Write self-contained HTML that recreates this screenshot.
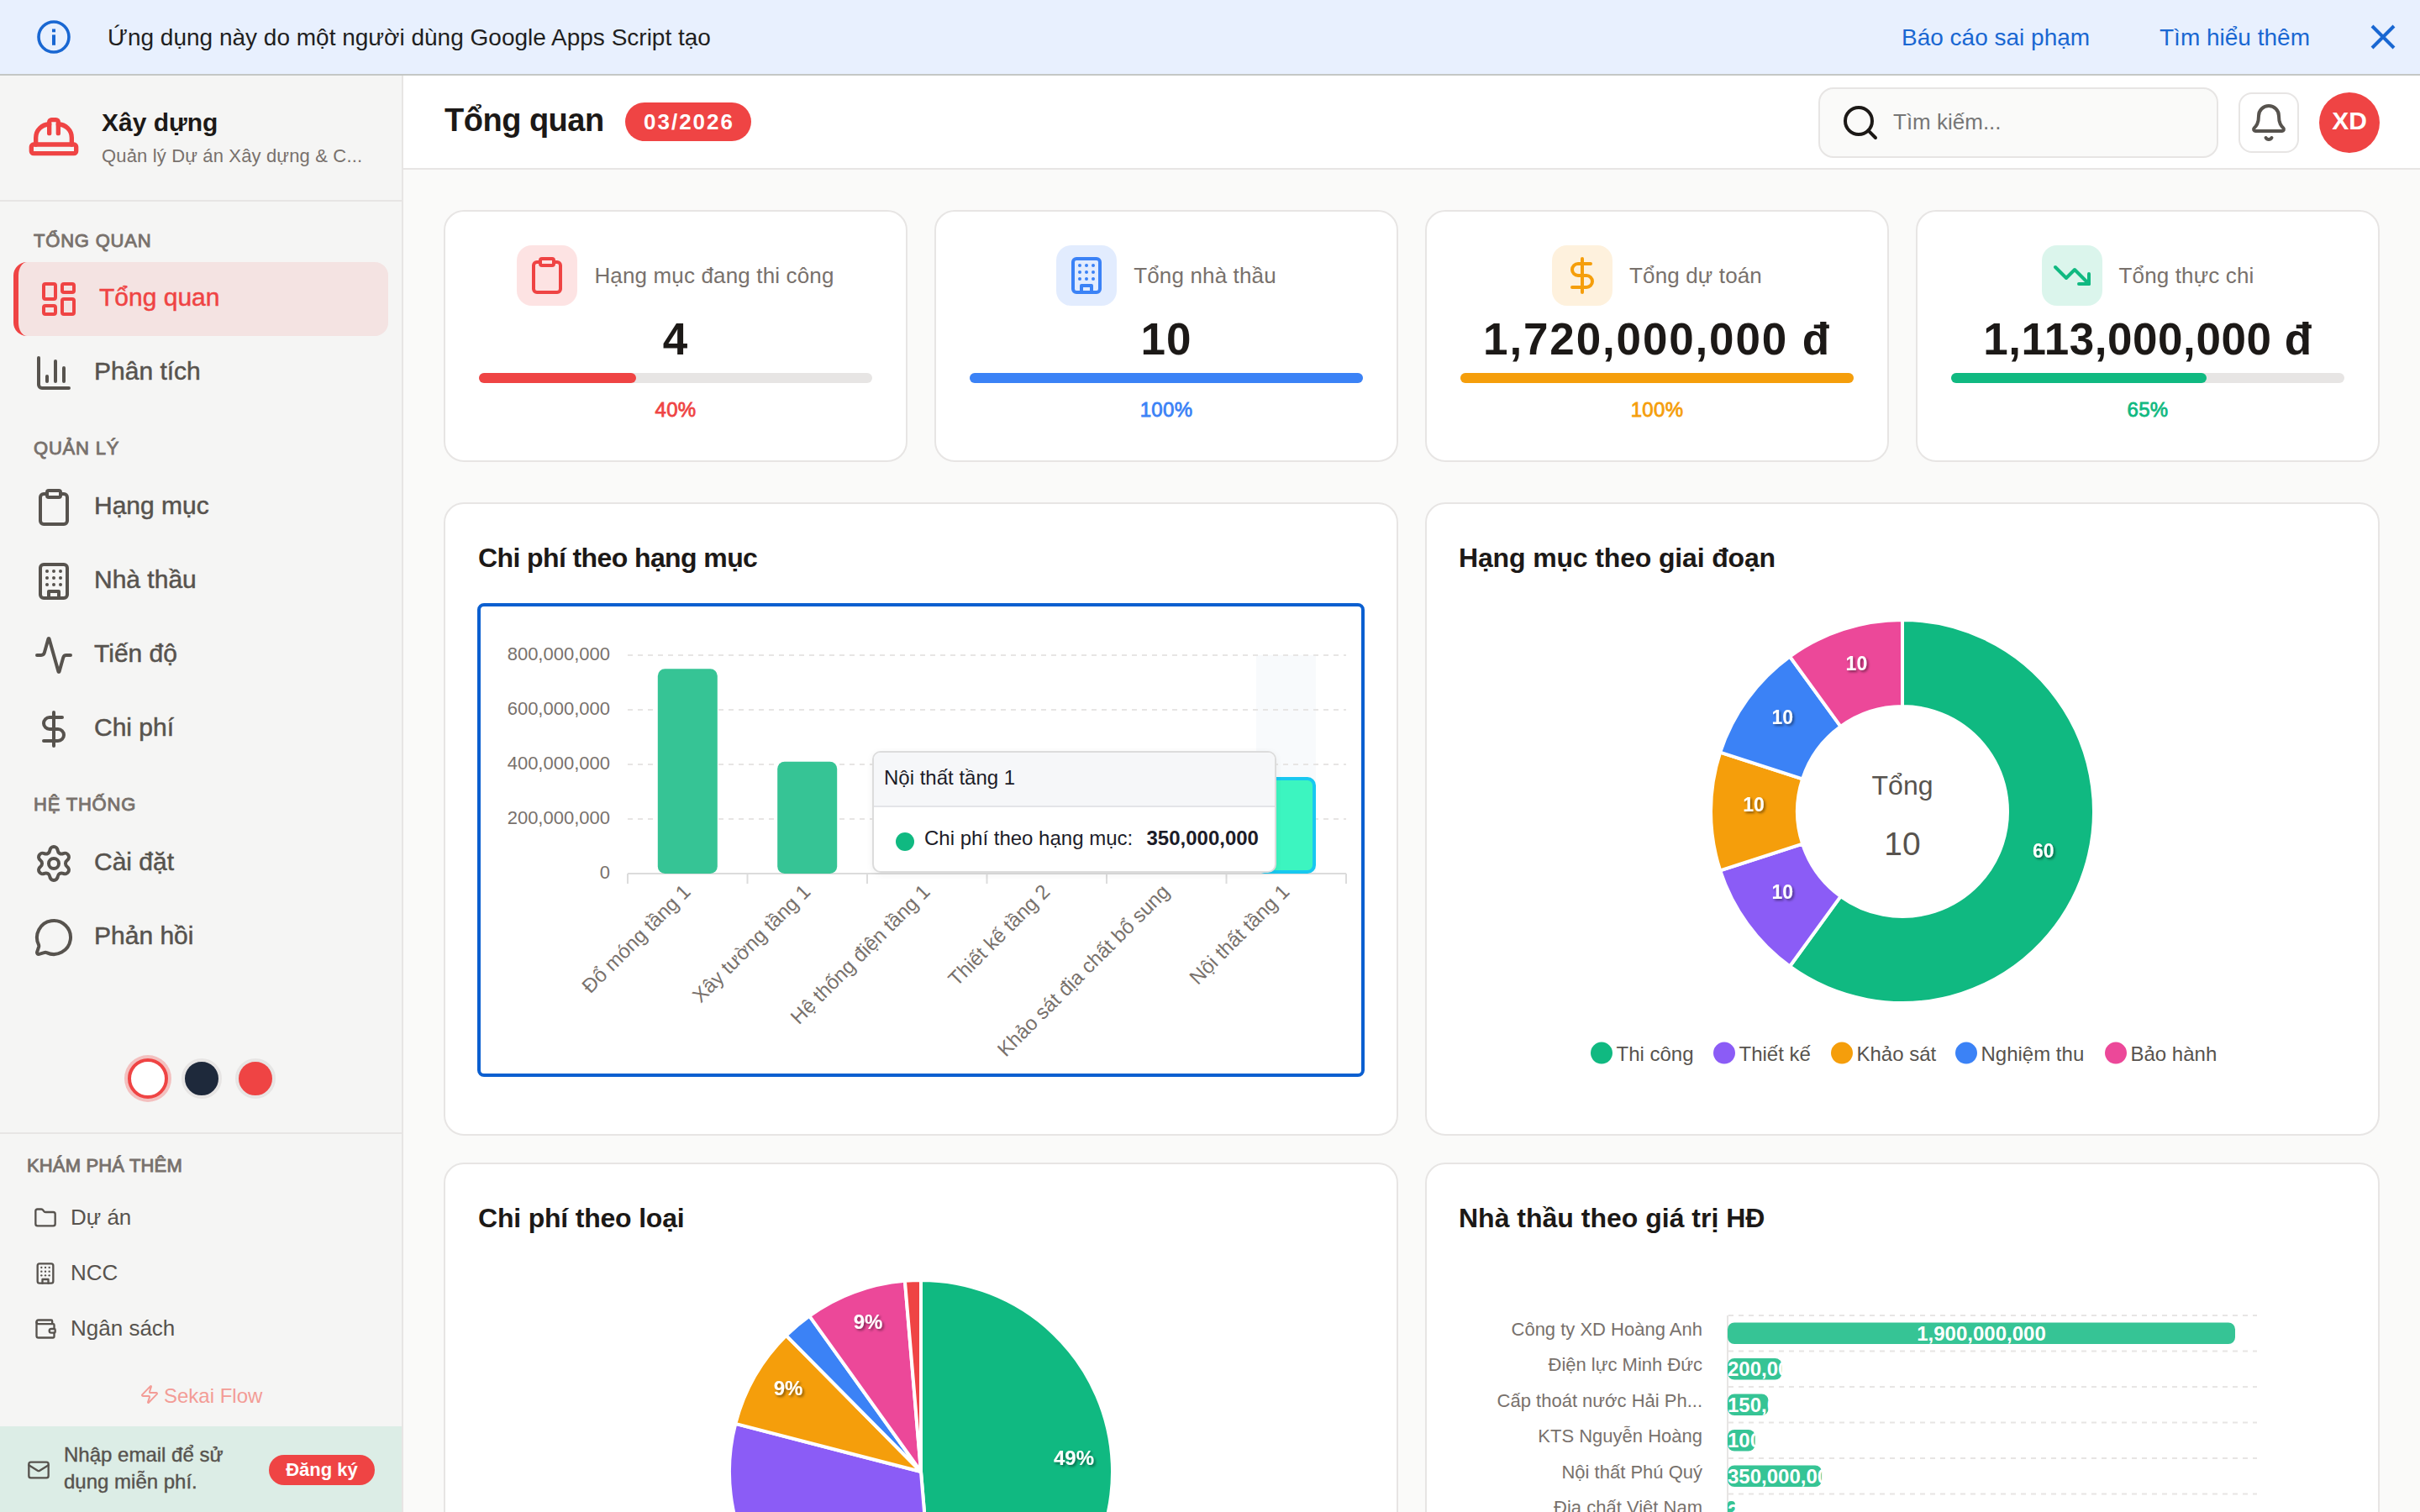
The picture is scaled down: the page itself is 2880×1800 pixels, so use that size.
<!DOCTYPE html>
<html lang="vi"><head><meta charset="utf-8"><title>Tổng quan - Xây dựng</title>
<style>
html,body{margin:0;padding:0;width:2880px;height:1800px;overflow:hidden;background:#fafaf9}
body{position:relative;font-family:"Liberation Sans", Arial, Helvetica, sans-serif;}
.t{position:absolute;white-space:nowrap;}
@media (max-width:2000px){html{zoom:0.5}}
</style></head><body>
<div style="position:relative;width:2880px;height:1800px;overflow:hidden">
<div style="position:absolute;left:0px;top:0px;width:2880px;height:88px;background:#e8f0fe"></div>
<div style="position:absolute;left:0px;top:88px;width:2880px;height:2px;background:#c4c7c5"></div>
<svg style="position:absolute;left:44px;top:24px" width="40" height="40" viewBox="0 0 40 40"><circle cx="20" cy="20" r="18" fill="none" stroke="#1967d2" stroke-width="3.6"/><rect x="18" y="10.5" width="4" height="3.8" fill="#1967d2"/><rect x="18" y="17.4" width="4" height="12.4" fill="#1967d2"/></svg>
<div class="t " style="left:128.0px;top:30.6px;font-size:28px;line-height:28px;color:#1f1f1f;">Ứng dụng này do một người dùng Google Apps Script tạo</div>
<div class="t " style="left:2263.0px;top:30.5px;font-size:28px;line-height:28px;color:#1967d2;">Báo cáo sai phạm</div>
<div class="t " style="left:2570.0px;top:30.5px;font-size:28px;line-height:28px;color:#1967d2;">Tìm hiểu thêm</div>
<svg style="position:absolute;left:2820px;top:28px" width="32" height="32" viewBox="0 0 32 32"><path d="M3 3L29 29M29 3L3 29" stroke="#1967d2" stroke-width="4"/></svg>
<div style="position:absolute;left:0px;top:90px;width:478px;height:1710px;background:#f5f5f4"></div>
<div style="position:absolute;left:478px;top:90px;width:2px;height:1710px;background:#e7e5e4"></div>
<div style="position:absolute;left:0px;top:238px;width:478px;height:2px;background:#e7e5e4"></div>
<svg style="position:absolute;left:32px;top:132px" width="64" height="64" viewBox="0 0 24 24" fill="none" stroke="#ef4444" stroke-width="2" stroke-linecap="round" stroke-linejoin="round"><path d="M10 10V5a1 1 0 0 1 1-1h2a1 1 0 0 1 1 1v5"/><path d="M14 6a6 6 0 0 1 6 6v3"/><path d="M4 15v-3a6 6 0 0 1 6-6"/><rect x="2" y="15" width="20" height="4" rx="1"/></svg>
<div class="t " style="left:121.0px;top:131.0px;font-size:30px;line-height:30px;color:#1c1917;font-weight:700;">Xây dựng</div>
<div class="t " style="left:121.0px;top:175.4px;font-size:22px;line-height:22px;color:#78716c;letter-spacing:0.15px;">Quản lý Dự án Xây dựng &amp; C...</div>
<div class="t " style="left:40.0px;top:275.6px;font-size:22px;line-height:22px;color:#78716c;letter-spacing:0.8px;-webkit-text-stroke:0.9px #78716c;">TỔNG QUAN</div>
<div style="position:absolute;left:16px;top:312px;width:440px;height:88px;border-left:6px solid #ef4444;border-radius:16px;background:rgba(239,68,68,0.1)"></div>
<svg style="position:absolute;left:46px;top:332px" width="48" height="48" viewBox="0 0 24 24" fill="none" stroke="#ef4444" stroke-width="2" stroke-linecap="round" stroke-linejoin="round"><rect width="7" height="9" x="3" y="3" rx="1"/><rect width="7" height="5" x="14" y="3" rx="1"/><rect width="7" height="9" x="14" y="12" rx="1"/><rect width="7" height="5" x="3" y="16" rx="1"/></svg>
<div class="t " style="left:118.0px;top:338.8px;font-size:30px;line-height:30px;color:#ef4444;-webkit-text-stroke:0.5px #ef4444;">Tổng quan</div>
<svg style="position:absolute;left:40px;top:420px" width="48" height="48" viewBox="0 0 24 24" fill="none" stroke="#57534e" stroke-width="2" stroke-linecap="round" stroke-linejoin="round"><path d="M3 3v16a2 2 0 0 0 2 2h16"/><path d="M18 17V9"/><path d="M13 17V5"/><path d="M8 17v-3"/></svg>
<div class="t " style="left:112.0px;top:426.8px;font-size:30px;line-height:30px;color:#57534e;-webkit-text-stroke:0.5px #57534e;">Phân tích</div>
<div class="t " style="left:40.0px;top:523.2px;font-size:22px;line-height:22px;color:#78716c;letter-spacing:0.8px;-webkit-text-stroke:0.9px #78716c;">QUẢN LÝ</div>
<svg style="position:absolute;left:40px;top:580px" width="48" height="48" viewBox="0 0 24 24" fill="none" stroke="#57534e" stroke-width="2" stroke-linecap="round" stroke-linejoin="round"><rect width="8" height="4" x="8" y="2" rx="1" ry="1"/><path d="M16 4h2a2 2 0 0 1 2 2v14a2 2 0 0 1-2 2H6a2 2 0 0 1-2-2V6a2 2 0 0 1 2-2h2"/></svg>
<div class="t " style="left:112.0px;top:586.8px;font-size:30px;line-height:30px;color:#57534e;-webkit-text-stroke:0.5px #57534e;">Hạng mục</div>
<svg style="position:absolute;left:40px;top:668px" width="48" height="48" viewBox="0 0 24 24" fill="none" stroke="#57534e" stroke-width="2" stroke-linecap="round" stroke-linejoin="round"><rect width="16" height="20" x="4" y="2" rx="2" ry="2"/><path d="M9 22v-4h6v4"/><path d="M8 6h.01"/><path d="M16 6h.01"/><path d="M12 6h.01"/><path d="M12 10h.01"/><path d="M12 14h.01"/><path d="M16 10h.01"/><path d="M16 14h.01"/><path d="M8 10h.01"/><path d="M8 14h.01"/></svg>
<div class="t " style="left:112.0px;top:674.8px;font-size:30px;line-height:30px;color:#57534e;-webkit-text-stroke:0.5px #57534e;">Nhà thầu</div>
<svg style="position:absolute;left:40px;top:756px" width="48" height="48" viewBox="0 0 24 24" fill="none" stroke="#57534e" stroke-width="2" stroke-linecap="round" stroke-linejoin="round"><path d="M22 12h-2.48a2 2 0 0 0-1.93 1.46l-2.35 8.36a.25.25 0 0 1-.48 0L9.240 2.18a.25.25 0 0 0-.48 0l-2.35 8.36A2 2 0 0 1 4.49 12H2"/></svg>
<div class="t " style="left:112.0px;top:762.8px;font-size:30px;line-height:30px;color:#57534e;-webkit-text-stroke:0.5px #57534e;">Tiến độ</div>
<svg style="position:absolute;left:40px;top:844px" width="48" height="48" viewBox="0 0 24 24" fill="none" stroke="#57534e" stroke-width="2" stroke-linecap="round" stroke-linejoin="round"><line x1="12" x2="12" y1="2" y2="22"/><path d="M17 5H9.5a3.5 3.5 0 0 0 0 7h5a3.5 3.5 0 0 1 0 7H6"/></svg>
<div class="t " style="left:112.0px;top:850.8px;font-size:30px;line-height:30px;color:#57534e;-webkit-text-stroke:0.5px #57534e;">Chi phí</div>
<div class="t " style="left:40.0px;top:947.4px;font-size:22px;line-height:22px;color:#78716c;letter-spacing:0.8px;-webkit-text-stroke:0.9px #78716c;">HỆ THỐNG</div>
<svg style="position:absolute;left:40px;top:1004px" width="48" height="48" viewBox="0 0 24 24" fill="none" stroke="#57534e" stroke-width="2" stroke-linecap="round" stroke-linejoin="round"><path d="M9.671 4.136a2.34 2.34 0 0 1 4.659 0 2.34 2.34 0 0 0 3.319 1.915 2.34 2.34 0 0 1 2.33 4.033 2.34 2.34 0 0 0 0 3.831 2.34 2.34 0 0 1-2.33 4.033 2.34 2.34 0 0 0-3.319 1.915 2.34 2.34 0 0 1-4.659 0 2.34 2.34 0 0 0-3.32-1.915 2.34 2.34 0 0 1-2.33-4.033 2.34 2.34 0 0 0 0-3.831A2.34 2.34 0 0 1 6.35 6.051a2.34 2.34 0 0 0 3.319-1.915"/><circle cx="12" cy="12" r="3"/></svg>
<div class="t " style="left:112.0px;top:1010.8px;font-size:30px;line-height:30px;color:#57534e;-webkit-text-stroke:0.5px #57534e;">Cài đặt</div>
<svg style="position:absolute;left:40px;top:1092px" width="48" height="48" viewBox="0 0 24 24" fill="none" stroke="#57534e" stroke-width="2" stroke-linecap="round" stroke-linejoin="round"><path d="M2.992 16.342a2 2 0 0 1 .094 1.167l-1.065 3.29a1 1 0 0 0 1.236 1.168l3.413-.998a2 2 0 0 1 1.099.092 10 10 0 1 0-4.777-4.719"/></svg>
<div class="t " style="left:112.0px;top:1098.8px;font-size:30px;line-height:30px;color:#57534e;-webkit-text-stroke:0.5px #57534e;">Phản hồi</div>
<div style="position:absolute;left:152px;top:1260px;width:40px;height:40px;border-radius:50%;background:#fff;border:4px solid #ef4444;box-shadow:0 0 0 4px rgba(239,68,68,0.3)"></div>
<div style="position:absolute;left:216px;top:1260px;width:40px;height:40px;border-radius:50%;background:#1e293b;border:4px solid #e7e5e4"></div>
<div style="position:absolute;left:280px;top:1260px;width:40px;height:40px;border-radius:50%;background:#ef4444;border:4px solid #e7e5e4"></div>
<div style="position:absolute;left:0px;top:1348px;width:478px;height:2px;background:#e7e5e4"></div>
<div class="t " style="left:32.0px;top:1377.4px;font-size:22px;line-height:22px;color:#78716c;letter-spacing:0.15px;-webkit-text-stroke:0.9px #78716c;">KHÁM PHÁ THÊM</div>
<svg style="position:absolute;left:40px;top:1436px" width="28" height="28" viewBox="0 0 24 24" fill="none" stroke="#57534e" stroke-width="2" stroke-linecap="round" stroke-linejoin="round"><path d="M20 20a2 2 0 0 0 2-2V8a2 2 0 0 0-2-2h-7.9a2 2 0 0 1-1.69-.9L9.6 3.9A2 2 0 0 0 7.93 3H4a2 2 0 0 0-2 2v13a2 2 0 0 0 2 2Z"/></svg>
<div class="t " style="left:84.0px;top:1436.0px;font-size:26px;line-height:26px;color:#57534e;">Dự án</div>
<svg style="position:absolute;left:40px;top:1502px" width="28" height="28" viewBox="0 0 24 24" fill="none" stroke="#57534e" stroke-width="2" stroke-linecap="round" stroke-linejoin="round"><rect width="16" height="20" x="4" y="2" rx="2" ry="2"/><path d="M9 22v-4h6v4"/><path d="M8 6h.01"/><path d="M16 6h.01"/><path d="M12 6h.01"/><path d="M12 10h.01"/><path d="M12 14h.01"/><path d="M16 10h.01"/><path d="M16 14h.01"/><path d="M8 10h.01"/><path d="M8 14h.01"/></svg>
<div class="t " style="left:84.0px;top:1502.0px;font-size:26px;line-height:26px;color:#57534e;">NCC</div>
<svg style="position:absolute;left:40px;top:1568px" width="28" height="28" viewBox="0 0 24 24" fill="none" stroke="#57534e" stroke-width="2" stroke-linecap="round" stroke-linejoin="round"><path d="M19 7V4a1 1 0 0 0-1-1H5a2 2 0 0 0 0 4h15a1 1 0 0 1 1 1v4h-3a2 2 0 0 0 0 4h3a1 1 0 0 0 1-1v-2a1 1 0 0 0-1-1"/><path d="M3 5v14a2 2 0 0 0 2 2h15a1 1 0 0 0 1-1v-4"/></svg>
<div class="t " style="left:84.0px;top:1568.0px;font-size:26px;line-height:26px;color:#57534e;">Ngân sách</div>
<svg style="position:absolute;left:166px;top:1648px" width="24" height="24" viewBox="0 0 24 24" fill="none" stroke="#f39c96" stroke-width="2" stroke-linecap="round" stroke-linejoin="round"><path d="M4 14a1 1 0 0 1-.78-1.63l9.9-10.2a.5.5 0 0 1 .86.46l-1.92 6.02A1 1 0 0 0 13 10h7a1 1 0 0 1 .78 1.63l-9.9 10.2a.5.5 0 0 1-.86-.46l1.92-6.02A1 1 0 0 0 11 14z"/></svg>
<div class="t " style="left:195.0px;top:1649.7px;font-size:24px;line-height:24px;color:#f39c96;">Sekai Flow</div>
<div style="position:absolute;left:0px;top:1698px;width:478px;height:102px;background:#dcede6"></div>
<svg style="position:absolute;left:32px;top:1736px" width="28" height="28" viewBox="0 0 24 24" fill="none" stroke="#57534e" stroke-width="2" stroke-linecap="round" stroke-linejoin="round"><rect width="20" height="16" x="2" y="4" rx="2"/><path d="m22 7-8.97 5.7a1.94 1.94 0 0 1-2.06 0L2 7"/></svg>
<div class="t " style="left:76.0px;top:1719.7px;font-size:24px;line-height:24px;color:#57534e;-webkit-text-stroke:0.4px #57534e;">Nhập email để sử</div>
<div class="t " style="left:76.0px;top:1752.1px;font-size:24px;line-height:24px;color:#57534e;-webkit-text-stroke:0.4px #57534e;">dụng miễn phí.</div>
<div style="position:absolute;left:320px;top:1732px;width:126px;height:36px;border-radius:18px;background:#ef4444"></div>
<div class="t " style="left:383.0px;top:1739.4px;font-size:22px;line-height:22px;color:#fff;font-weight:700;transform:translateX(-50%);">Đăng ký</div>
<div style="position:absolute;left:480px;top:90px;width:2400px;height:110px;background:#fff"></div>
<div style="position:absolute;left:480px;top:200px;width:2400px;height:2px;background:#e7e5e4"></div>
<div style="position:absolute;left:480px;top:202px;width:2400px;height:1598px;background:#fafaf9"></div>
<div class="t " style="left:529.0px;top:123.8px;font-size:38px;line-height:38px;color:#1c1917;font-weight:700;letter-spacing:-0.5px;">Tổng quan</div>
<div style="position:absolute;left:744px;top:122px;width:150px;height:46px;border-radius:23px;background:#ef4444"></div>
<div class="t " style="left:820.0px;top:132.3px;font-size:26px;line-height:26px;color:#fff;font-weight:700;letter-spacing:2px;transform:translateX(-50%);">03/2026</div>
<div style="position:absolute;left:2164px;top:104px;width:472px;height:80px;border:2px solid #e7e5e4;border-radius:18px;background:#fafaf9"></div>
<svg style="position:absolute;left:2190px;top:122px" width="48" height="48" viewBox="0 0 24 24" fill="none" stroke="#1c1917" stroke-width="2" stroke-linecap="round" stroke-linejoin="round"><circle cx="11" cy="11" r="8"/><path d="m21 21-4.3-4.3"/></svg>
<div class="t " style="left:2253.0px;top:132.0px;font-size:26px;line-height:26px;color:#767676;">Tìm kiếm...</div>
<div style="position:absolute;left:2664px;top:110px;width:68px;height:68px;border:2px solid #e7e5e4;border-radius:16px;background:#fff"></div>
<svg style="position:absolute;left:2676px;top:122px" width="48" height="48" viewBox="0 0 24 24" fill="none" stroke="#57534e" stroke-width="2" stroke-linecap="round" stroke-linejoin="round"><path d="M10.268 21a2 2 0 0 0 3.464 0"/><path d="M3.262 15.326A1 1 0 0 0 4 17h16a1 1 0 0 0 .74-1.673C19.41 13.956 18 12.499 18 8A6 6 0 0 0 6 8c0 4.499-1.411 5.956-2.738 7.326"/></svg>
<div style="position:absolute;left:2760px;top:110px;width:72px;height:72px;border-radius:50%;background:#ef4444"></div>
<div class="t " style="left:2796.0px;top:129.1px;font-size:30px;line-height:30px;color:#fff;font-weight:700;transform:translateX(-50%);">XD</div>
<div style="position:absolute;left:528px;top:250px;width:548px;height:296px;border:2px solid #e7e5e4;border-radius:24px;background:#fff"></div>
<div style="position:absolute;left:528px;top:292px;width:552px;height:72px;display:flex;justify-content:center;align-items:center;gap:20px"><div style="width:72px;height:72px;border-radius:18px;background:rgba(239,68,68,0.15);display:flex;align-items:center;justify-content:center"><svg width="48" height="48" viewBox="0 0 24 24" fill="none" stroke="#ef4444" stroke-width="2" stroke-linecap="round" stroke-linejoin="round"><rect width="8" height="4" x="8" y="2" rx="1" ry="1"/><path d="M16 4h2a2 2 0 0 1 2 2v14a2 2 0 0 1-2 2H6a2 2 0 0 1-2-2V6a2 2 0 0 1 2-2h2"/></svg></div><div style="font-size:26px;color:#78716c;white-space:nowrap;line-height:26px;letter-spacing:0.15px">Hạng mục đang thi công</div></div>
<div class="t " style="left:804.0px;top:377.4px;font-size:53px;line-height:53px;color:#1c1917;font-weight:700;letter-spacing:1px;transform:translateX(-50%);">4</div>
<div style="position:absolute;left:570px;top:444px;width:468px;height:12px;border-radius:6px;background:#e7e5e4"><div style="width:40.0%;height:12px;border-radius:6px;background:#ef4444"></div></div>
<div class="t " style="left:804.0px;top:475.9px;font-size:24px;line-height:24px;color:#ef4444;letter-spacing:0.3px;transform:translateX(-50%);-webkit-text-stroke:0.8px #ef4444;">40%</div>
<div style="position:absolute;left:1112px;top:250px;width:548px;height:296px;border:2px solid #e7e5e4;border-radius:24px;background:#fff"></div>
<div style="position:absolute;left:1112px;top:292px;width:552px;height:72px;display:flex;justify-content:center;align-items:center;gap:20px"><div style="width:72px;height:72px;border-radius:18px;background:rgba(59,130,246,0.15);display:flex;align-items:center;justify-content:center"><svg width="48" height="48" viewBox="0 0 24 24" fill="none" stroke="#3b82f6" stroke-width="2" stroke-linecap="round" stroke-linejoin="round"><rect width="16" height="20" x="4" y="2" rx="2" ry="2"/><path d="M9 22v-4h6v4"/><path d="M8 6h.01"/><path d="M16 6h.01"/><path d="M12 6h.01"/><path d="M12 10h.01"/><path d="M12 14h.01"/><path d="M16 10h.01"/><path d="M16 14h.01"/><path d="M8 10h.01"/><path d="M8 14h.01"/></svg></div><div style="font-size:26px;color:#78716c;white-space:nowrap;line-height:26px;letter-spacing:0.15px">Tổng nhà thầu</div></div>
<div class="t " style="left:1388.0px;top:377.4px;font-size:53px;line-height:53px;color:#1c1917;font-weight:700;letter-spacing:1px;transform:translateX(-50%);">10</div>
<div style="position:absolute;left:1154px;top:444px;width:468px;height:12px;border-radius:6px;background:#e7e5e4"><div style="width:100.0%;height:12px;border-radius:6px;background:#3b82f6"></div></div>
<div class="t " style="left:1388.0px;top:475.9px;font-size:24px;line-height:24px;color:#3b82f6;letter-spacing:0.3px;transform:translateX(-50%);-webkit-text-stroke:0.8px #3b82f6;">100%</div>
<div style="position:absolute;left:1696px;top:250px;width:548px;height:296px;border:2px solid #e7e5e4;border-radius:24px;background:#fff"></div>
<div style="position:absolute;left:1696px;top:292px;width:552px;height:72px;display:flex;justify-content:center;align-items:center;gap:20px"><div style="width:72px;height:72px;border-radius:18px;background:rgba(245,158,11,0.14);display:flex;align-items:center;justify-content:center"><svg width="48" height="48" viewBox="0 0 24 24" fill="none" stroke="#f59e0b" stroke-width="2" stroke-linecap="round" stroke-linejoin="round"><line x1="12" x2="12" y1="2" y2="22"/><path d="M17 5H9.5a3.5 3.5 0 0 0 0 7h5a3.5 3.5 0 0 1 0 7H6"/></svg></div><div style="font-size:26px;color:#78716c;white-space:nowrap;line-height:26px;letter-spacing:0.15px">Tổng dự toán</div></div>
<div class="t " style="left:1972.0px;top:377.4px;font-size:53px;line-height:53px;color:#1c1917;font-weight:700;letter-spacing:1.85px;transform:translateX(-50%);">1,720,000,000 đ</div>
<div style="position:absolute;left:1738px;top:444px;width:468px;height:12px;border-radius:6px;background:#e7e5e4"><div style="width:100.0%;height:12px;border-radius:6px;background:#f59e0b"></div></div>
<div class="t " style="left:1972.0px;top:475.9px;font-size:24px;line-height:24px;color:#f59e0b;letter-spacing:0.3px;transform:translateX(-50%);-webkit-text-stroke:0.8px #f59e0b;">100%</div>
<div style="position:absolute;left:2280px;top:250px;width:548px;height:296px;border:2px solid #e7e5e4;border-radius:24px;background:#fff"></div>
<div style="position:absolute;left:2280px;top:292px;width:552px;height:72px;display:flex;justify-content:center;align-items:center;gap:20px"><div style="width:72px;height:72px;border-radius:18px;background:rgba(16,185,129,0.15);display:flex;align-items:center;justify-content:center"><svg width="48" height="48" viewBox="0 0 24 24" fill="none" stroke="#10b981" stroke-width="2" stroke-linecap="round" stroke-linejoin="round"><polyline points="22 17 13.5 8.5 8.5 13.5 2 7"/><polyline points="16 17 22 17 22 11"/></svg></div><div style="font-size:26px;color:#78716c;white-space:nowrap;line-height:26px;letter-spacing:0.15px">Tổng thực chi</div></div>
<div class="t " style="left:2556.0px;top:377.4px;font-size:53px;line-height:53px;color:#1c1917;font-weight:700;letter-spacing:0.55px;transform:translateX(-50%);">1,113,000,000 đ</div>
<div style="position:absolute;left:2322px;top:444px;width:468px;height:12px;border-radius:6px;background:#e7e5e4"><div style="width:65.0%;height:12px;border-radius:6px;background:#10b981"></div></div>
<div class="t " style="left:2556.0px;top:475.9px;font-size:24px;line-height:24px;color:#10b981;letter-spacing:0.3px;transform:translateX(-50%);-webkit-text-stroke:0.8px #10b981;">65%</div>
<div style="position:absolute;left:528px;top:598px;width:1132px;height:750px;border:2px solid #e7e5e4;border-radius:24px;background:#fff"></div>
<div style="position:absolute;left:1696px;top:598px;width:1132px;height:750px;border:2px solid #e7e5e4;border-radius:24px;background:#fff"></div>
<div style="position:absolute;left:528px;top:1384px;width:1132px;height:600px;border:2px solid #e7e5e4;border-radius:24px;background:#fff"></div>
<div style="position:absolute;left:1696px;top:1384px;width:1132px;height:600px;border:2px solid #e7e5e4;border-radius:24px;background:#fff"></div>
<div class="t " style="left:569.0px;top:647.5px;font-size:32px;line-height:32px;color:#1c1917;font-weight:700;letter-spacing:-0.6px;">Chi phí theo hạng mục</div>
<div class="t " style="left:1736.0px;top:647.5px;font-size:32px;line-height:32px;color:#1c1917;font-weight:700;letter-spacing:-0.15px;">Hạng mục theo giai đoạn</div>
<div class="t " style="left:569.0px;top:1433.5px;font-size:32px;line-height:32px;color:#1c1917;font-weight:700;letter-spacing:-0.2px;">Chi phí theo loại</div>
<div class="t " style="left:1736.0px;top:1433.5px;font-size:32px;line-height:32px;color:#1c1917;font-weight:700;">Nhà thầu theo giá trị HĐ</div>
<svg style="position:absolute;left:0;top:0" width="2880" height="1800" viewBox="0 0 2880 1800" font-family='"Liberation Sans", Arial, Helvetica, sans-serif'><rect x="1495" y="780" width="71" height="260" fill="#f8fafc"/><line x1="747" x2="1602" y1="780" y2="780" stroke="#e7e5e4" stroke-width="2" stroke-dasharray="6 6"/><text x="726" y="786.4" text-anchor="end" font-size="22" fill="#78716c">800,000,000</text><line x1="747" x2="1602" y1="845" y2="845" stroke="#e7e5e4" stroke-width="2" stroke-dasharray="6 6"/><text x="726" y="851.4" text-anchor="end" font-size="22" fill="#78716c">600,000,000</text><line x1="747" x2="1602" y1="910" y2="910" stroke="#e7e5e4" stroke-width="2" stroke-dasharray="6 6"/><text x="726" y="916.4" text-anchor="end" font-size="22" fill="#78716c">400,000,000</text><line x1="747" x2="1602" y1="975" y2="975" stroke="#e7e5e4" stroke-width="2" stroke-dasharray="6 6"/><text x="726" y="981.4" text-anchor="end" font-size="22" fill="#78716c">200,000,000</text><text x="726" y="1046.4" text-anchor="end" font-size="22" fill="#78716c">0</text><line x1="747" x2="1602" y1="1040" y2="1040" stroke="#dcdcdc" stroke-width="2"/><rect x="782.8" y="796.2" width="71" height="243.8" rx="8.5" fill="#36c495"/><rect x="925.2" y="906.8" width="71" height="133.2" rx="8.5" fill="#36c495"/><rect x="1497" y="927" width="67" height="111" rx="8" fill="#3cf5c0" stroke="#18c8f0" stroke-width="4"/><line x1="747.0" x2="747.0" y1="1040" y2="1052" stroke="#dcdcdc" stroke-width="2"/><line x1="889.5" x2="889.5" y1="1040" y2="1052" stroke="#dcdcdc" stroke-width="2"/><line x1="1032.0" x2="1032.0" y1="1040" y2="1052" stroke="#dcdcdc" stroke-width="2"/><line x1="1174.5" x2="1174.5" y1="1040" y2="1052" stroke="#dcdcdc" stroke-width="2"/><line x1="1317.0" x2="1317.0" y1="1040" y2="1052" stroke="#dcdcdc" stroke-width="2"/><line x1="1459.5" x2="1459.5" y1="1040" y2="1052" stroke="#dcdcdc" stroke-width="2"/><line x1="1602.0" x2="1602.0" y1="1040" y2="1052" stroke="#dcdcdc" stroke-width="2"/><text x="811.2" y="1051" dy="0.71em" text-anchor="end" font-size="24" fill="#78716c" transform="rotate(-45 811.2 1051)">Đổ móng tầng 1</text><text x="953.8" y="1051" dy="0.71em" text-anchor="end" font-size="24" fill="#78716c" transform="rotate(-45 953.8 1051)">Xây tường tầng 1</text><text x="1096.2" y="1051" dy="0.71em" text-anchor="end" font-size="24" fill="#78716c" transform="rotate(-45 1096.2 1051)">Hệ thống điện tầng 1</text><text x="1238.8" y="1051" dy="0.71em" text-anchor="end" font-size="24" fill="#78716c" transform="rotate(-45 1238.8 1051)">Thiết kế tầng 2</text><text x="1381.2" y="1051" dy="0.71em" text-anchor="end" font-size="24" fill="#78716c" transform="rotate(-45 1381.2 1051)">Khảo sát địa chất bổ sung</text><text x="1523.8" y="1051" dy="0.71em" text-anchor="end" font-size="24" fill="#78716c" transform="rotate(-45 1523.8 1051)">Nội thất tầng 1</text><path d="M2264.00,738.00 A228,228 0 1 1 2129.98,1150.46 L2190.53,1067.13 A125,125 0 1 0 2264.00,841.00 Z" fill="#10b981" stroke="#fff" stroke-width="4" stroke-linejoin="round"/><path d="M2129.98,1150.46 A228,228 0 0 1 2047.16,1036.46 L2145.12,1004.63 A125,125 0 0 0 2190.53,1067.13 Z" fill="#8b5cf6" stroke="#fff" stroke-width="4" stroke-linejoin="round"/><path d="M2047.16,1036.46 A228,228 0 0 1 2047.16,895.54 L2145.12,927.37 A125,125 0 0 0 2145.12,1004.63 Z" fill="#f59e0b" stroke="#fff" stroke-width="4" stroke-linejoin="round"/><path d="M2047.16,895.54 A228,228 0 0 1 2129.98,781.54 L2190.53,864.87 A125,125 0 0 0 2145.12,927.37 Z" fill="#3b82f6" stroke="#fff" stroke-width="4" stroke-linejoin="round"/><path d="M2129.98,781.54 A228,228 0 0 1 2264.00,738.00 L2264.00,841.00 A125,125 0 0 0 2190.53,864.87 Z" fill="#ec4899" stroke="#fff" stroke-width="4" stroke-linejoin="round"/><defs><filter id="ts" x="-50%" y="-50%" width="200%" height="200%"><feDropShadow dx="2" dy="2" stdDeviation="1.6" flood-color="#000" flood-opacity="0.45"/></filter></defs><text x="2209.4" y="798" text-anchor="middle" font-size="23" font-weight="700" fill="#fff" filter="url(#ts)">10</text><text x="2121.3" y="861.7" text-anchor="middle" font-size="23" font-weight="700" fill="#fff" filter="url(#ts)">10</text><text x="2087.1" y="965.6" text-anchor="middle" font-size="23" font-weight="700" fill="#fff" filter="url(#ts)">10</text><text x="2121.3" y="1070" text-anchor="middle" font-size="23" font-weight="700" fill="#fff" filter="url(#ts)">10</text><text x="2431.8" y="1020.6" text-anchor="middle" font-size="23" font-weight="700" fill="#fff" filter="url(#ts)">60</text><text x="2264" y="945.7" text-anchor="middle" font-size="32" fill="#57534e">Tổng</text><text x="2264" y="1018" text-anchor="middle" font-size="39" fill="#57534e">10</text><circle cx="1906" cy="1253.6" r="13" fill="#10b981"/><text x="1923.5" y="1262.5" font-size="24" fill="#57534e">Thi công</text><circle cx="2052" cy="1253.6" r="13" fill="#8b5cf6"/><text x="2069.5" y="1262.5" font-size="24" fill="#57534e">Thiết kế</text><circle cx="2192" cy="1253.6" r="13" fill="#f59e0b"/><text x="2209.5" y="1262.5" font-size="24" fill="#57534e">Khảo sát</text><circle cx="2340" cy="1253.6" r="13" fill="#3b82f6"/><text x="2357.5" y="1262.5" font-size="24" fill="#57534e">Nghiệm thu</text><circle cx="2518" cy="1253.6" r="13" fill="#ec4899"/><text x="2535.5" y="1262.5" font-size="24" fill="#57534e">Bảo hành</text><path d="M1096,1752 L1096.00,1524.00 A228,228 0 0 1 1115.08,1979.20 Z" fill="#10b981" stroke="#fff" stroke-width="4" stroke-linejoin="round"/><path d="M1096,1752 L1115.08,1979.20 A228,228 0 0 1 875.26,1694.91 Z" fill="#8b5cf6" stroke="#fff" stroke-width="4" stroke-linejoin="round"/><path d="M1096,1752 L875.26,1694.91 A228,228 0 0 1 935.63,1589.94 Z" fill="#f59e0b" stroke="#fff" stroke-width="4" stroke-linejoin="round"/><path d="M1096,1752 L935.63,1589.94 A228,228 0 0 1 963.28,1566.61 Z" fill="#3b82f6" stroke="#fff" stroke-width="4" stroke-linejoin="round"/><path d="M1096,1752 L963.28,1566.61 A228,228 0 0 1 1076.92,1524.80 Z" fill="#ec4899" stroke="#fff" stroke-width="4" stroke-linejoin="round"/><path d="M1096,1752 L1076.92,1524.80 A228,228 0 0 1 1096.00,1524.00 Z" fill="#ef4444" stroke="#fff" stroke-width="4" stroke-linejoin="round"/><text x="1278" y="1744" text-anchor="middle" font-size="24" font-weight="700" fill="#fff" filter="url(#ts)">49%</text><text x="1033" y="1581.5" text-anchor="middle" font-size="24" font-weight="700" fill="#fff" filter="url(#ts)">9%</text><text x="938" y="1661" text-anchor="middle" font-size="24" font-weight="700" fill="#fff" filter="url(#ts)">9%</text><line x1="2057" x2="2686" y1="1566" y2="1566" stroke="#e7e5e4" stroke-width="2" stroke-dasharray="6 6"/><line x1="2057" x2="2686" y1="1608.5" y2="1608.5" stroke="#e7e5e4" stroke-width="2" stroke-dasharray="6 6"/><line x1="2057" x2="2686" y1="1651" y2="1651" stroke="#e7e5e4" stroke-width="2" stroke-dasharray="6 6"/><line x1="2057" x2="2686" y1="1693.5" y2="1693.5" stroke="#e7e5e4" stroke-width="2" stroke-dasharray="6 6"/><line x1="2057" x2="2686" y1="1736" y2="1736" stroke="#e7e5e4" stroke-width="2" stroke-dasharray="6 6"/><line x1="2057" x2="2686" y1="1778.5" y2="1778.5" stroke="#e7e5e4" stroke-width="2" stroke-dasharray="6 6"/><line x1="2056" x2="2056" y1="1566" y2="1800" stroke="#e7e5e4" stroke-width="2"/><text x="2026" y="1589.5" text-anchor="end" font-size="22" fill="#78716c">Công ty XD Hoàng Anh</text><rect x="2056" y="1574.5" width="604.0" height="25.5" rx="8.0" fill="#36c495"/><text x="2358" y="1595.5" text-anchor="middle" font-size="24" font-weight="700" fill="#fff">1,900,000,000</text><text x="2026" y="1632.0" text-anchor="end" font-size="22" fill="#78716c">Điện lực Minh Đức</text><rect x="2056" y="1617.0" width="64.5" height="25.5" rx="8.0" fill="#36c495"/><text x="2056" y="1638.0" font-size="24" font-weight="700" fill="#fff">200,000,000</text><text x="2026" y="1674.5" text-anchor="end" font-size="22" fill="#78716c">Cấp thoát nước Hải Ph...</text><rect x="2056" y="1659.5" width="48.6" height="25.5" rx="8.0" fill="#36c495"/><text x="2056" y="1680.5" font-size="24" font-weight="700" fill="#fff">150,000,000</text><text x="2026" y="1717.0" text-anchor="end" font-size="22" fill="#78716c">KTS Nguyễn Hoàng</text><rect x="2056" y="1702.0" width="32.7" height="25.5" rx="8.0" fill="#36c495"/><text x="2056" y="1723.0" font-size="24" font-weight="700" fill="#fff">100,000,000</text><text x="2026" y="1759.5" text-anchor="end" font-size="22" fill="#78716c">Nội thất Phú Quý</text><rect x="2056" y="1744.5" width="112.1" height="25.5" rx="8.0" fill="#36c495"/><text x="2056" y="1765.5" font-size="24" font-weight="700" fill="#fff">350,000,000</text><text x="2026" y="1802.0" text-anchor="end" font-size="22" fill="#78716c">Địa chất Việt Nam</text><rect x="2056" y="1787.0" width="8.9" height="25.5" rx="4.0" fill="#36c495"/><text x="2056" y="1808.0" font-size="24" font-weight="700" fill="#fff">25,000,000</text></svg>
<div style="position:absolute;left:568px;top:718px;width:1048px;height:556px;border:4px solid #0b5fd0;border-radius:8px"></div>
<div style="position:absolute;left:1038px;top:894px;width:477px;height:141px;border:2px solid #dcdcdc;border-radius:10px;background:#fff;box-shadow:0 2px 8px rgba(0,0,0,0.06);overflow:hidden"><div style="height:63px;background:#f6f7f9;border-bottom:2px solid #e3e4e8"></div></div>
<div class="t " style="left:1052.0px;top:913.5px;font-size:24px;line-height:24px;color:#1c1c28;">Nội thất tầng 1</div>
<div style="position:absolute;left:1065.5px;top:990.5px;width:22px;height:22px;border-radius:50%;background:#10b981"></div>
<div class="t " style="left:1100.0px;top:986.2px;font-size:24px;line-height:24px;color:#1c1c28;">Chi phí theo hạng mục:</div>
<div class="t " style="left:1364.5px;top:986.2px;font-size:24px;line-height:24px;color:#1c1c28;font-weight:700;">350,000,000</div>
</div>
</body></html>
